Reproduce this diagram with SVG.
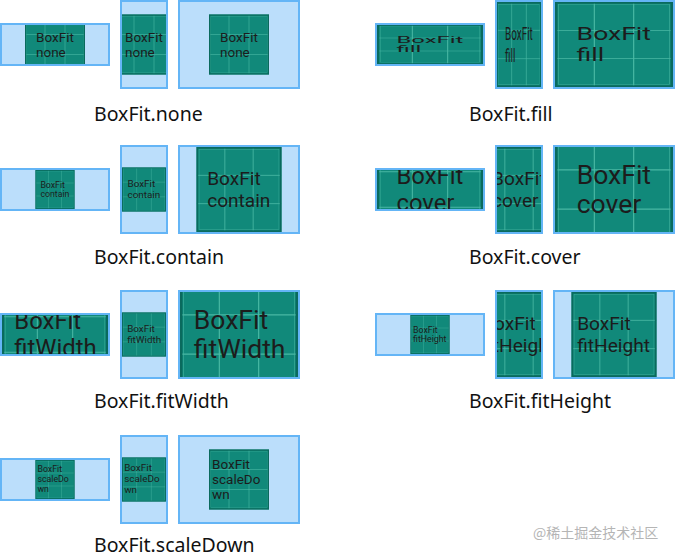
<svg xmlns="http://www.w3.org/2000/svg" xmlns:xlink="http://www.w3.org/1999/xlink" width="675" height="557" viewBox="0 0 675 557">
<style>
.box{fill:#bbdefb;stroke:#64b5f6;stroke-width:2}
.lbl{font-family:"Noto Sans","Liberation Sans",sans-serif;font-size:19.5px;fill:#111}
.it{font-family:Roboto,"Liberation Sans",sans-serif;font-size:13.5px;fill:#1c1c1c}
.wm{font-family:"Noto Sans CJK SC","Noto Sans",sans-serif;font-size:14px;fill:#b5b5b5}
</style>
<defs>
<g id="pic">
<rect width="60" height="60" fill="#11897a"/>
<path d="M20 0V60M40 0V60M0 20H60M0 40H60" stroke="#49b8a4" stroke-width="0.6" fill="none"/>
<rect x="1.8" y="1.8" width="56.4" height="56.4" fill="none" stroke="#49b8a4" stroke-width="0.4" opacity="0.7"/>
<rect x="0.6" y="0.6" width="58.8" height="58.8" fill="none" stroke="#0a6a5d" stroke-width="1.2"/>
</g>
<g id="t-none" class="it"><text x="11" y="27">BoxFit</text><text x="11" y="42">none</text></g>
<g id="t-fill" class="it"><text x="11" y="27">BoxFit</text><text x="11" y="42">fill</text></g>
<g id="t-contain" class="it"><text x="7.5" y="27">BoxFit</text><text x="7.5" y="42">contain</text></g>
<g id="t-cover" class="it"><text x="11" y="27">BoxFit</text><text x="11" y="42">cover</text></g>
<g id="t-fitWidth" class="it"><text x="7" y="27">BoxFit</text><text x="7" y="42">fitWidth</text></g>
<g id="t-fitHeight" class="it"><text x="4" y="27">BoxFit</text><text x="4" y="42">fitHeight</text></g>
<g id="t-scaleDown" class="it"><text x="3" y="19">BoxFit</text><text x="3" y="34">scaleDo</text><text x="3" y="49">wn</text></g>
</defs>
<rect width="675" height="557" fill="#fff"/>

<!-- none -->
<g id="none">
<g id="none-1"><rect class="box" x="1" y="24" width="108" height="41"/><svg x="2" y="25" width="106" height="39"><g transform="translate(23,-10.5)"><use href="#pic"/><use href="#t-none"/></g></svg></g>
<g id="none-2"><rect class="box" x="121" y="1" width="46" height="87"/><svg x="122" y="2" width="44" height="85"><g transform="translate(-8,12.5)"><use href="#pic"/><use href="#t-none"/></g></svg></g>
<g id="none-3"><rect class="box" x="179" y="1" width="120" height="87"/><svg x="180" y="2" width="118" height="85"><g transform="translate(29,12.5)"><use href="#pic"/><use href="#t-none"/></g></svg></g>
<text class="lbl" x="94" y="120.7">BoxFit.none</text>
</g>

<!-- fill -->
<g id="fill">
<g id="fill-1"><rect class="box" x="376" y="24" width="108" height="41"/><svg x="377" y="25" width="106" height="39"><g transform="scale(1.7667,0.65)"><use href="#pic"/><use href="#t-fill"/></g></svg></g>
<g id="fill-2"><rect class="box" x="496" y="1" width="46" height="87"/><svg x="497" y="2" width="44" height="85"><g transform="scale(0.7333,1.4167)"><use href="#pic"/><use href="#t-fill"/></g></svg></g>
<g id="fill-3"><rect class="box" x="554" y="1" width="120" height="87"/><svg x="555" y="2" width="118" height="85"><g transform="scale(1.9667,1.4167)"><use href="#pic"/><use href="#t-fill"/></g></svg></g>
<text class="lbl" x="469" y="120.7">BoxFit.fill</text>
</g>

<!-- contain -->
<g id="contain">
<g id="contain-1"><rect class="box" x="1" y="169" width="108" height="41"/><svg x="2" y="170" width="106" height="39"><g transform="translate(33.5,0) scale(0.65)"><use href="#pic"/><use href="#t-contain"/></g></svg></g>
<g id="contain-2"><rect class="box" x="121" y="146" width="46" height="87"/><svg x="122" y="147" width="44" height="85"><g transform="translate(0,20.5) scale(0.7333)"><use href="#pic"/><use href="#t-contain"/></g></svg></g>
<g id="contain-3"><rect class="box" x="179" y="146" width="120" height="87"/><svg x="180" y="147" width="118" height="85"><g transform="translate(16.5,0) scale(1.4167)"><use href="#pic"/><use href="#t-contain"/></g></svg></g>
<text class="lbl" x="94" y="264">BoxFit.contain</text>
</g>

<!-- cover -->
<g id="cover">
<g id="cover-1"><rect class="box" x="376" y="169" width="108" height="41"/><svg x="377" y="170" width="106" height="39"><g transform="translate(0,-33.5) scale(1.7667)"><use href="#pic"/><use href="#t-cover"/></g></svg></g>
<g id="cover-2"><rect class="box" x="496" y="146" width="46" height="87"/><svg x="497" y="147" width="44" height="85"><g transform="translate(-20.5,0) scale(1.4167)"><use href="#pic"/><use href="#t-cover"/></g></svg></g>
<g id="cover-3"><rect class="box" x="554" y="146" width="120" height="87"/><svg x="555" y="147" width="118" height="85"><g transform="translate(0,-16.5) scale(1.9667)"><use href="#pic"/><use href="#t-cover"/></g></svg></g>
<text class="lbl" x="469" y="264">BoxFit.cover</text>
</g>

<!-- fitWidth -->
<g id="fitWidth">
<g id="fitWidth-1"><rect class="box" x="1" y="314" width="108" height="41"/><svg x="2" y="315" width="106" height="39"><g transform="translate(0,-33.5) scale(1.7667)"><use href="#pic"/><use href="#t-fitWidth"/></g></svg></g>
<g id="fitWidth-2"><rect class="box" x="121" y="291" width="46" height="87"/><svg x="122" y="292" width="44" height="85"><g transform="translate(0,20.5) scale(0.7333)"><use href="#pic"/><use href="#t-fitWidth"/></g></svg></g>
<g id="fitWidth-3"><rect class="box" x="179" y="291" width="120" height="87"/><svg x="180" y="292" width="118" height="85"><g transform="translate(0,-16.5) scale(1.9667)"><use href="#pic"/><use href="#t-fitWidth"/></g></svg></g>
<text class="lbl" x="94" y="407.7">BoxFit.fitWidth</text>
</g>

<!-- fitHeight -->
<g id="fitHeight">
<g id="fitHeight-1"><rect class="box" x="376" y="314" width="108" height="41"/><svg x="377" y="315" width="106" height="39"><g transform="translate(33.5,0) scale(0.65)"><use href="#pic"/><use href="#t-fitHeight"/></g></svg></g>
<g id="fitHeight-2"><rect class="box" x="496" y="291" width="46" height="87"/><svg x="497" y="292" width="44" height="85"><g transform="translate(-20.5,0) scale(1.4167)"><use href="#pic"/><use href="#t-fitHeight"/></g></svg></g>
<g id="fitHeight-3"><rect class="box" x="554" y="291" width="120" height="87"/><svg x="555" y="292" width="118" height="85"><g transform="translate(16.5,0) scale(1.4167)"><use href="#pic"/><use href="#t-fitHeight"/></g></svg></g>
<text class="lbl" x="469" y="407.7">BoxFit.fitHeight</text>
</g>

<!-- scaleDown -->
<g id="scaleDown">
<g id="scaleDown-1"><rect class="box" x="1" y="459" width="108" height="41"/><svg x="2" y="460" width="106" height="39"><g transform="translate(33.5,0) scale(0.65)"><use href="#pic"/><use href="#t-scaleDown"/></g></svg></g>
<g id="scaleDown-2"><rect class="box" x="121" y="436" width="46" height="87"/><svg x="122" y="437" width="44" height="85"><g transform="translate(0,20.5) scale(0.7333)"><use href="#pic"/><use href="#t-scaleDown"/></g></svg></g>
<g id="scaleDown-3"><rect class="box" x="179" y="436" width="120" height="87"/><svg x="180" y="437" width="118" height="85"><g transform="translate(29,12.5)"><use href="#pic"/><use href="#t-scaleDown"/></g></svg></g>
<text class="lbl" x="94" y="551.5">BoxFit.scaleDown</text>
</g>

<g id="connectors"/>
<text class="wm" x="533" y="538">@稀土掘金技术社区</text>
</svg>
